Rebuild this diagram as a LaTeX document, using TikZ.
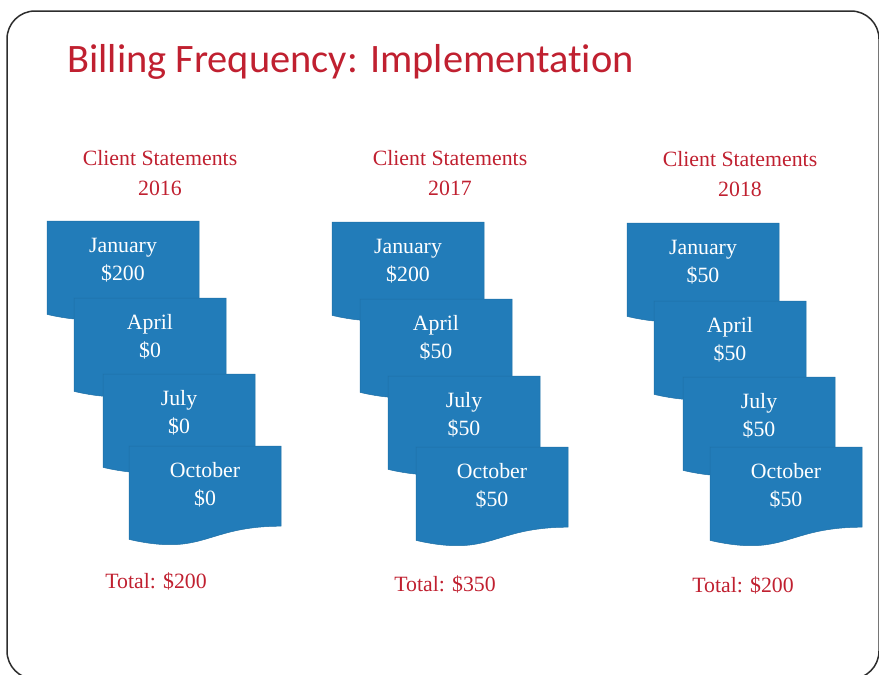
\documentclass[tikz,border=0pt]{standalone}
\usepackage{fontspec}
\setmainfont{Liberation Serif}
\newfontfamily\titlefont[Ligatures={NoCommon,NoRare,NoContextual}]{Carlito}
\definecolor{docblue}{RGB}{34,124,185}
\definecolor{slidered}{RGB}{192,32,48}
\definecolor{framegray}{RGB}{45,45,45}
\tikzset{
  stmtshape/.style={fill=docblue, draw=docblue!90!black, line width=0.25pt},
  stmttext/.style={text=white, align=center, font=\fontsize{10.9}{14}\selectfont, inner sep=0pt},
  headtext/.style={text=slidered, align=center, font=\fontsize{10.9}{15}\selectfont, inner sep=0pt},
  totaltext/.style={text=slidered, font=\fontsize{10.9}{13}\selectfont, inner sep=0pt},
  titletext/.style={text=slidered, font=\titlefont\fontsize{20.2}{24}\selectfont, inner sep=0pt, anchor=west},
  slideframe/.style={draw=framegray, line width=0.75pt, rounded corners=14pt}
}
% #1 name, #2 left x, #3 top y, #4 text
\newcommand\stmtbox[4]{%
  \path[stmtshape] (#2,#3) -- (#2+152,#3) -- (#2+152,#3+80.2)
    .. controls (#2+76,#3+80.2) and (#2+76,#3+110.75) .. (#2,#3+93.4) -- cycle;
  \node[stmttext] (#1) at (#2+76,#3+39) {#4};
}
\begin{document}
\begin{tikzpicture}[x=0.5pt,y=-0.5pt]
\useasboundingbox (0,0) rectangle (879,675);
\draw[slideframe] (7,11) rectangle (879,679);
\node[titletext] (title) at (67,62) {Billing Frequency: Implementation};

% column 1
\node[headtext] (h1) at (160,173) {Client Statements\\2016};
\stmtbox{a1}{47}{221}{January\\\$200}
\stmtbox{b1}{74}{298}{April\\\$0}
\stmtbox{c1}{103}{374}{July\\\$0}
\stmtbox{d1}{129}{446}{October\\\$0}
\node[totaltext] (t1) at (156,581) {Total: \$200};

% column 2
\node[headtext] (h2) at (450,173) {Client Statements\\2017};
\stmtbox{a2}{332}{222}{January\\\$200}
\stmtbox{b2}{360}{299}{April\\\$50}
\stmtbox{c2}{388}{376}{July\\\$50}
\stmtbox{d2}{416}{447}{October\\\$50}
\node[totaltext] (t2) at (445,584) {Total: \$350};

% column 3
\node[headtext] (h3) at (740,174) {Client Statements\\2018};
\stmtbox{a3}{627}{223}{January\\\$50}
\stmtbox{b3}{654}{301}{April\\\$50}
\stmtbox{c3}{683}{377}{July\\\$50}
\stmtbox{d3}{710}{447}{October\\\$50}
\node[totaltext] (t3) at (743,585) {Total: \$200};
\end{tikzpicture}
\end{document}
